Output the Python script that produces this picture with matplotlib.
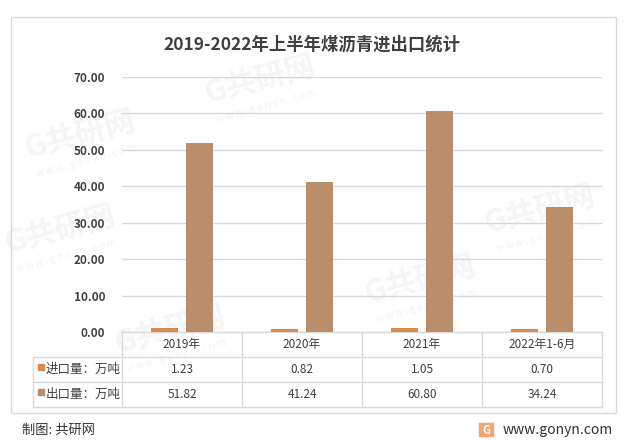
import matplotlib.pyplot as plt
from matplotlib.patches import Rectangle
from matplotlib.lines import Line2D
import numpy as np

plt.rcParams["font.family"] = ["Noto Sans CJK SC", "DejaVu Sans"]

# ---------------- DATA ---------------- #

years = ["2019年", "2020年", "2021年", "2022年1-6月"]
import_vals = [1.23, 0.82, 1.05, 0.70]
export_vals = [51.82, 41.24, 60.80, 34.24]
series_names = ["进口量：万吨", "出口量：万吨"]
colors = ["#D98B4B", "#BA8D6B"]

text_color = "#404040"
grid_color = "#D9D9D9"

# ---------------- FIGURE ---------------- #

fig = plt.figure(figsize=(6.24, 4.4), dpi=100)
fig.patch.set_facecolor("white")

# outer frame
fig.patches.append(Rectangle(
    (11 / 624, 1 - 413 / 440), 605 / 624, 396 / 440,
    transform=fig.transFigure, fill=False, edgecolor="#D9D9D9", linewidth=1
))

# faint watermarks (behind the chart)
for wx, wy in [(80, 135), (260, 80), (420, 280), (540, 210), (170, 330), (60, 230)]:
    fig.text(wx / 624, 1 - wy / 440, "G共研网", fontsize=22, fontweight="bold",
             color="#F5F5F5", rotation=15, ha="center", va="center", zorder=-1)
    fig.text(wx / 624 + 0.01, 1 - (wy + 26) / 440, "w w w . g o n y n . c o m", fontsize=7,
             color="#F3F3F3", rotation=15, ha="center", va="center", zorder=-1)

ax = fig.add_axes([122 / 624, 1 - 332 / 440, 480 / 624, 255 / 440])
ax.set_facecolor("none")
ax.set_zorder(2)

x = np.arange(len(years))
bar_w = 0.225
off = 0.142

ax.bar(x - off, import_vals, width=bar_w, color=colors[0], zorder=3)
ax.bar(x + off, export_vals, width=bar_w, color=colors[1], zorder=3)

ax.set_xlim(-0.5, len(years) - 0.5)
ax.set_ylim(0, 70)
ax.set_yticks(np.arange(0, 71, 10))
ax.set_yticklabels([f"{v:.2f}" for v in np.arange(0, 71, 10)],
                   fontsize=8.5, color=text_color, fontweight="bold")
ax.tick_params(axis="y", length=0, pad=12)
ax.set_xticks([])

ax.grid(axis="y", color=grid_color, linewidth=1, zorder=0)
for spine in ax.spines.values():
    spine.set_visible(False)

fig.text(312 / 624, 1 - 45 / 440, "2019-2022年上半年煤沥青进出口统计",
         fontsize=12.5, fontweight="bold", color=text_color, ha="center", va="center")

# ---------------- DATA TABLE ---------------- #

row_h = 25 / 255  # in axes fraction
tr = ax.get_xaxis_transform()
x_left = -0.5 - (122 - 33) / 120

# horizontal lines
ax.add_line(Line2D([-0.5, 3.5], [0, 0], transform=tr, color=grid_color, lw=1, clip_on=False))
for k in range(1, 4):
    ax.add_line(Line2D([x_left, 3.5], [-k * row_h, -k * row_h], transform=tr,
                       color=grid_color, lw=1, clip_on=False))
# vertical lines
for xv in np.arange(-0.5, len(years), 1.0):
    ax.add_line(Line2D([xv, xv], [0, -3 * row_h], transform=tr, color=grid_color, lw=1, clip_on=False))
ax.add_line(Line2D([x_left, x_left], [-row_h, -3 * row_h], transform=tr, color=grid_color, lw=1, clip_on=False))

for i, yr in enumerate(years):
    ax.text(i, -0.5 * row_h, yr, transform=tr, ha="center", va="center",
            fontsize=8.5, color=text_color)

for r, (name, vals) in enumerate(zip(series_names, [import_vals, export_vals])):
    yc = -(r + 1.5) * row_h
    ax.add_patch(Rectangle((x_left + 5 / 120, yc), 6 / 120, 6 / 255, transform=tr,
                           color=colors[r], clip_on=False))
    ax.text(x_left + 13 / 120, yc, name, transform=tr, ha="left", va="center",
            fontsize=9, color=text_color)
    for i, v in enumerate(vals):
        ax.text(i, yc, f"{v:.2f}", transform=tr, ha="center", va="center",
                fontsize=8.5, color=text_color)

# ---------------- FOOTER ---------------- #

fig.text(22 / 624, 1 - 430 / 440, "制图: 共研网", fontsize=9.5, color="#333333",
         ha="left", va="center")
fig.text(613 / 624, 1 - 430 / 440, "www.gonyn.com", fontsize=10, color="#333333",
         ha="right", va="center")
fig.patches.append(Rectangle((479 / 624, 1 - 436 / 440), 14 / 624, 13 / 440,
                             transform=fig.transFigure, color="#F3A56B"))
fig.text(486 / 624, 1 - 430 / 440, "G", fontsize=8, fontweight="bold", color="white",
         ha="center", va="center")

fig.savefig("out.png", dpi=100)
